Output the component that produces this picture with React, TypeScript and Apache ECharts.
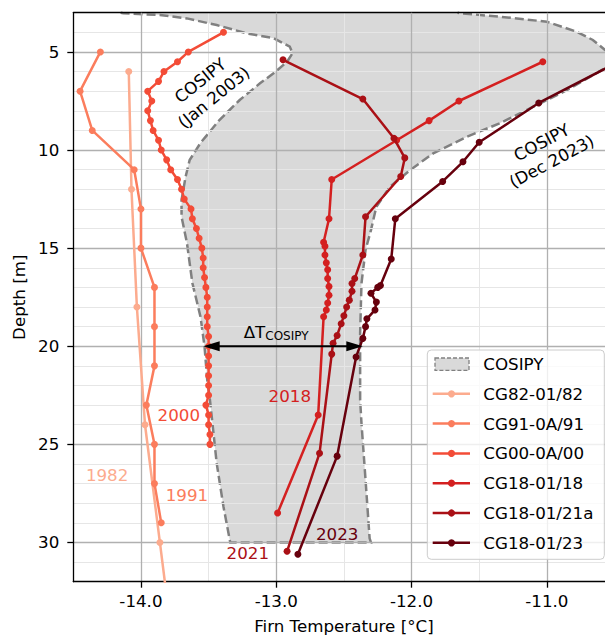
import React, { useEffect, useRef } from 'react';
import * as echarts from 'echarts';

const FONT = 'DejaVu Sans';
const FS = 16.7;

// ---- data ----
const seriesNames = ['CG82-01/82', 'CG91-0A/91', 'CG00-0A/00', 'CG18-01/18', 'CG18-01/21a', 'CG18-01/23'];
const seriesColors = ['#fcab8e', '#fb7d5d', '#f34c37', '#d42020', '#aa1016', '#67000d'];

const depth82 = [6, 12, 18, 24, 30, 36];
const temp82 = [-14.09, -14.07, -14.03, -13.97, -13.86, -13.75];

const depth91 = [5, 7, 9, 11, 13, 15, 17, 19, 21, 23, 25, 27, 29];
const temp91 = [-14.30, -14.45, -14.36, -14.05, -14.00, -14.00, -13.90, -13.90, -13.90, -13.96, -13.90, -13.90, -13.85];

const depth00 = [4, 5, 5.5, 6, 6.5, 7, 7.5, 8, 8.5, 9, 9.5, 10, 10.5, 11, 11.5, 12, 12.5, 13, 13.5, 14, 14.5, 15, 15.5, 16, 16.5, 17, 17.5, 18, 18.5, 19, 19.5, 20, 20.5, 21, 21.5, 22, 22.5, 23, 23.5, 24, 24.5, 25];
const temp00 = [-13.39, -13.65, -13.73, -13.83, -13.87, -13.95, -13.92, -13.95, -13.93, -13.91, -13.87, -13.85, -13.81, -13.78, -13.73, -13.70, -13.68, -13.63, -13.62, -13.59, -13.57, -13.55, -13.54, -13.54, -13.53, -13.52, -13.51, -13.51, -13.51, -13.51, -13.50, -13.50, -13.50, -13.50, -13.50, -13.50, -13.50, -13.52, -13.50, -13.50, -13.49, -13.49];

const depth18 = [5.5, 7.5, 8.5, 9.5, 11.5, 13.5, 14.7, 14.9, 15.35, 15.75, 16.1, 16.55, 16.95, 17.4, 17.8, 18.15, 18.5, 23.5, 28.5];
const temp18 = [-11.03, -11.65, -11.87, -12.11, -12.59, -12.61, -12.65, -12.64, -12.64, -12.63, -12.62, -12.62, -12.61, -12.61, -12.62, -12.63, -12.65, -12.69, -12.99];

const depth21 = [5.4, 7.4, 9.4, 10.4, 11.35, 13.4, 15.35, 16.55, 16.8, 17.2, 17.65, 18.0, 18.45, 18.85, 19.45, 19.85, 20.4, 25.45, 30.45];
const temp21 = [-12.95, -12.36, -12.13, -12.05, -12.08, -12.34, -12.36, -12.42, -12.44, -12.44, -12.46, -12.48, -12.50, -12.52, -12.55, -12.58, -12.59, -12.68, -12.92];

const depth23 = [5.5, 7.6, 9.6, 10.6, 11.6, 13.5, 15.55, 16.9, 17.0, 17.3, 17.75, 18.15, 18.6, 19.0, 19.6, 20.55, 25.6, 30.6];
const temp23 = [-10.47, -11.06, -11.50, -11.62, -11.77, -12.12, -12.15, -12.23, -12.25, -12.30, -12.26, -12.27, -12.33, -12.34, -12.36, -12.41, -12.55, -12.84];

const seriesDepths = [depth82, depth91, depth00, depth18, depth21, depth23];
const seriesTemps = [temp82, temp91, temp00, temp18, temp21, temp23];

// COSIPY envelope: Jan 2003 (left/top boundary) and Dec 2023 (right boundary), top to bottom
const cosipyJanTemp = [-14.15, -14.13, -13.86, -13.66, -13.44, -13.22, -13.02, -12.90, -12.88, -12.92, -13.02, -13.12, -13.27, -13.42, -13.56, -13.64, -13.67, -13.70, -13.70, -13.66, -13.62, -13.56, -13.53, -13.51, -13.49, -13.44, -13.39, -13.34];
const cosipyJanDepth = [3.0, 3.03, 3.12, 3.29, 3.63, 4.05, 4.30, 4.73, 5.07, 5.50, 6.09, 6.60, 7.45, 8.47, 9.64, 10.51, 11.36, 12.55, 13.40, 14.74, 16.78, 18.49, 20.02, 21.72, 22.74, 25.97, 28.18, 30.0];
const cosipyDecTemp = [-11.66, -11.64, -11.35, -11.00, -10.78, -10.66, -10.57, -10.48, -10.57, -10.85, -11.10, -11.35, -11.59, -11.84, -12.01, -12.16, -12.26, -12.30, -12.34, -12.37, -12.38, -12.38, -12.37, -12.34, -12.31, -12.30];
const cosipyDecDepth = [3.0, 3.03, 3.20, 3.46, 3.97, 4.39, 4.90, 5.40, 5.83, 6.94, 7.79, 8.64, 9.32, 10.17, 11.02, 11.87, 12.89, 14.08, 15.09, 16.79, 19.33, 22.74, 23.93, 26.82, 29.79, 30.0];

const yearLabels = ['1982', '1991', '2000', '2018', '2021', '2023'];
const yearLabelTemp = [-14.25, -13.66, -13.72, -12.90, -13.21, -12.55];
const yearLabelDepth = [26.56, 27.58, 23.50, 22.54, 30.55, 29.57];

const cosipyLabels = ['COSIPY\n(Jan 2003)', 'COSIPY\n(Dec 2023)'];
const cosipyLabelTemp = [-13.51, -11.0];
const cosipyLabelDepth = [6.9, 10.11];
const cosipyLabelAngle = [39, 28];

const deltaTemp = [-13.54, -12.36];
const deltaDepth = 20;
const deltaLabelPos = [-13.0, 19.27];

const xTicks = [-14, -13, -12, -11];
const yTicks = [5, 10, 15, 20, 25, 30];

const MAJOR = '#b0b0b0';
const MINOR = '#e6e6e6';
const NONE = 'rgba(0,0,0,0)';

export default function App() {
  const ref = useRef<HTMLDivElement>(null);

  useEffect(() => {
    document.body.style.margin = '0';
    const chart = echarts.init(ref.current as HTMLDivElement, null, { renderer: 'svg' });

    const lineSeries = seriesNames.map((name, k) => ({
      type: 'line',
      name,
      xAxisIndex: 0,
      yAxisIndex: 0,
      data: seriesTemps[k].map((t, i) => [t, seriesDepths[k][i]]),
      symbol: 'circle',
      symbolSize: 7,
      showSymbol: true,
      clip: true,
      lineStyle: { width: 2.5, color: seriesColors[k] },
      itemStyle: { color: seriesColors[k] },
      emphasis: { disabled: true },
      silent: true,
      z: 2 + k * 0.01,
    }));

    const cosipySeries = {
      type: 'custom',
      name: 'COSIPY',
      xAxisIndex: 0,
      yAxisIndex: 0,
      silent: true,
      z: -1,
      data: [[-13, 20]],
      renderItem: (_params: any, api: any) => {
        const left = cosipyJanTemp.map((t, i) => api.coord([t, cosipyJanDepth[i]]));
        const right = cosipyDecTemp.map((t, i) => api.coord([t, cosipyDecDepth[i]]));
        const pts = [...left, ...right.slice().reverse()];
        return {
          type: 'group',
          children: [
            { type: 'polygon', shape: { points: pts }, style: { fill: '#d9d9d9', stroke: 'none' } },
            {
              type: 'polyline',
              shape: { points: pts },
              style: { fill: 'none', stroke: '#808080', lineWidth: 2.5, lineDash: [9, 4] },
            },
          ],
        };
      },
    };

    const option: any = {
      animation: false,
      backgroundColor: '#ffffff',
      textStyle: { fontFamily: FONT },
      grid: {
        left: 73.3,
        top: 12.7,
        width: 541.2,
        height: 569,
        containLabel: false,
        outerBoundsMode: 'none',
      },
      xAxis: [
        {
          type: 'value',
          position: 'bottom',
          min: -14.5,
          max: -10.5,
          interval: 0.5,
          name: 'Firn Temperature [°C]',
          nameLocation: 'middle',
          nameGap: 36,
          nameTextStyle: { fontSize: FS, color: '#000', fontFamily: FONT },
          axisLine: { show: true, onZero: false, lineStyle: { color: '#000', width: 1.3 } },
          axisTick: { show: true, length: 6, customValues: xTicks, lineStyle: { color: '#000', width: 1.3 } },
          axisLabel: {
            show: true,
            customValues: xTicks,
            margin: 11,
            fontSize: FS,
            color: '#000',
            fontFamily: FONT,
            formatter: (v: number) => v.toFixed(1),
          },
          splitLine: { show: true, lineStyle: { color: MAJOR, width: 1.3 } },
          z: 1,
        },
        {
          // top frame + minor vertical grid lines every 0.5 °C
          type: 'value',
          position: 'top',
          min: -14.5,
          max: -10.5,
          interval: 0.5,
          axisLine: { show: true, onZero: false, lineStyle: { color: '#000', width: 1.3 } },
          axisTick: { show: false },
          axisLabel: { show: false },
          splitLine: {
            show: true,
            showMinLine: false,
            showMaxLine: false,
            lineStyle: { color: [NONE, MINOR], width: 1 },
          },
          z: 0,
        },
      ],
      yAxis: [
        {
          type: 'value',
          position: 'left',
          inverse: true,
          min: 3,
          max: 32,
          interval: 1,
          name: 'Depth [m]',
          nameLocation: 'middle',
          nameGap: 44,
          nameTextStyle: { fontSize: FS, color: '#000', fontFamily: FONT },
          axisLine: { show: true, onZero: false, lineStyle: { color: '#000', width: 1.3 } },
          axisTick: { show: true, length: 6, customValues: yTicks, lineStyle: { color: '#000', width: 1.3 } },
          axisLabel: {
            show: true,
            customValues: yTicks,
            margin: 14,
            fontSize: FS,
            color: '#000',
            fontFamily: FONT,
          },
          splitLine: { show: true, lineStyle: { color: MAJOR, width: 1.3 } },
          z: 1,
        },
        {
          // minor horizontal grid lines every 1 m
          type: 'value',
          position: 'right',
          inverse: true,
          min: 3,
          max: 32,
          interval: 1,
          axisLine: { show: false },
          axisTick: { show: false },
          axisLabel: { show: false },
          splitLine: {
            show: true,
            showMinLine: false,
            showMaxLine: false,
            lineStyle: { color: [MINOR, NONE, MINOR, MINOR, MINOR], width: 1 },
          },
          z: 0,
        },
      ],
      series: [cosipySeries, ...lineSeries],
    };

    chart.setOption(option);

    const px = (t: number, d: number) =>
      chart.convertToPixel({ xAxisIndex: 0, yAxisIndex: 0 } as any, [t, d]) as number[];

    const g: any[] = [];

    // year labels
    yearLabels.forEach((txt, i) => {
      const p = px(yearLabelTemp[i], yearLabelDepth[i]);
      g.push({
        type: 'text',
        x: p[0],
        y: p[1],
        z: 50,
        silent: true,
        style: { text: txt, fill: seriesColors[i], fontSize: FS, fontFamily: FONT, align: 'center', verticalAlign: 'middle' },
      });
    });

    // COSIPY rotated labels
    cosipyLabels.forEach((txt, i) => {
      const p = px(cosipyLabelTemp[i], cosipyLabelDepth[i]);
      g.push({
        type: 'text',
        x: p[0],
        y: p[1],
        rotation: (cosipyLabelAngle[i] * Math.PI) / 180,
        z: 50,
        silent: true,
        style: {
          text: txt,
          fill: '#000',
          fontSize: FS,
          fontFamily: FONT,
          lineHeight: 21.5,
          align: 'center',
          verticalAlign: 'middle',
        },
      });
    });

    // delta T arrow
    const a = px(deltaTemp[0], deltaDepth);
    const b = px(deltaTemp[1], deltaDepth);
    const headL = 16.5;
    const headW = 5;
    g.push({
      type: 'line',
      z: 50,
      silent: true,
      shape: { x1: a[0] + headL - 1, y1: a[1], x2: b[0] - headL + 1, y2: b[1] },
      style: { stroke: '#000', lineWidth: 2 },
    });
    g.push({
      type: 'polygon',
      z: 50,
      silent: true,
      shape: { points: [[a[0], a[1]], [a[0] + headL, a[1] - headW], [a[0] + headL, a[1] + headW]] },
      style: { fill: '#000' },
    });
    g.push({
      type: 'polygon',
      z: 50,
      silent: true,
      shape: { points: [[b[0], b[1]], [b[0] - headL, b[1] - headW], [b[0] - headL, b[1] + headW]] },
      style: { fill: '#000' },
    });
    const dl = px(deltaLabelPos[0], deltaLabelPos[1]);
    g.push({
      type: 'text',
      x: dl[0] - 11,
      y: dl[1],
      z: 50,
      silent: true,
      style: { text: 'ΔT', fill: '#000', fontSize: FS, fontFamily: FONT, align: 'right', verticalAlign: 'middle' },
    });
    g.push({
      type: 'text',
      x: dl[0] - 11,
      y: dl[1] + 4,
      z: 50,
      silent: true,
      style: { text: 'COSIPY', fill: '#000', fontSize: 12, fontFamily: FONT, align: 'left', verticalAlign: 'middle' },
    });

    // legend
    const lx = 427.3;
    const ly = 350;
    g.push({
      type: 'rect',
      z: 60,
      silent: true,
      shape: { x: lx, y: ly, width: 177, height: 209.3, r: 4 },
      style: { fill: 'rgba(255,255,255,0.8)', stroke: '#cccccc', lineWidth: 1 },
    });
    const rowY = (i: number) => 364 + i * 29.8;
    g.push({
      type: 'rect',
      z: 61,
      silent: true,
      shape: { x: 435, y: rowY(0) - 6, width: 34, height: 12.4 },
      style: { fill: '#d9d9d9', stroke: '#808080', lineWidth: 1.3, lineDash: [4, 2] },
    });
    g.push({
      type: 'text',
      z: 61,
      silent: true,
      x: 483.3,
      y: rowY(0),
      style: { text: 'COSIPY', fill: '#000', fontSize: FS, fontFamily: FONT, align: 'left', verticalAlign: 'middle' },
    });
    seriesNames.forEach((name, i) => {
      const y = rowY(i + 1);
      g.push({
        type: 'line',
        z: 61,
        silent: true,
        shape: { x1: 432.7, y1: y, x2: 470, y2: y },
        style: { stroke: seriesColors[i], lineWidth: 2.5 },
      });
      g.push({
        type: 'circle',
        z: 62,
        silent: true,
        shape: { cx: 451.5, cy: y, r: 3.6 },
        style: { fill: seriesColors[i] },
      });
      g.push({
        type: 'text',
        z: 61,
        silent: true,
        x: 483.3,
        y,
        style: { text: name, fill: '#000', fontSize: FS, fontFamily: FONT, align: 'left', verticalAlign: 'middle' },
      });
    });

    chart.setOption({ graphic: g });

    return () => {
      chart.dispose();
    };
  }, []);

  return <div ref={ref} style={{ width: 605, height: 637 }} />;
}
